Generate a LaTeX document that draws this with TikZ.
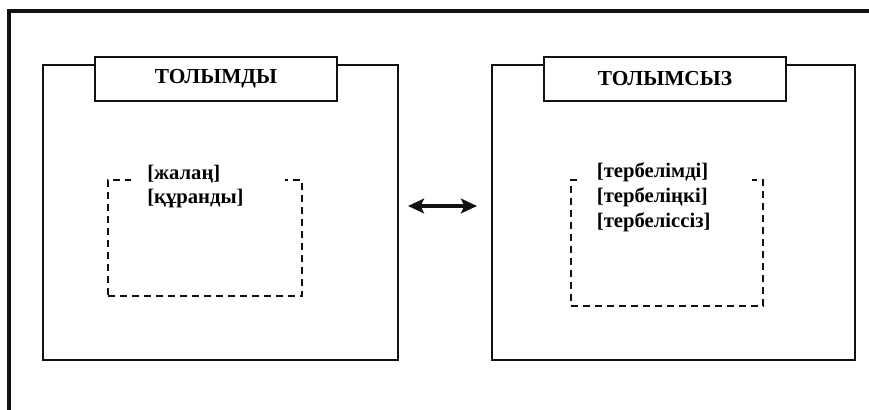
\documentclass[tikz,border=0pt]{standalone}
\usepackage{fontspec}
\setmainfont{Liberation Serif}
\usepackage{tikz}
\usetikzlibrary{arrows.meta,positioning}
\definecolor{ink}{HTML}{111111}

\begin{document}
\begin{tikzpicture}[x=0.75pt,y=-0.75pt,
  panel/.style={draw=ink,line width=1.5pt,minimum height=221.25pt,anchor=north west,inner sep=0pt},
  titlebox/.style={draw=ink,fill=white,line width=1.5pt,minimum width=181.5pt,minimum height=33pt,inner sep=0pt,font=\bfseries\fontsize{16pt}{18pt}\selectfont},
  dashbox/.style={draw=ink,line width=1.5pt,dash pattern=on 5.5pt off 3.5pt,anchor=north west,inner sep=0pt},
  entries/.style={fill=white,anchor=north west,align=left,inner ysep=2pt,font=\bfseries\fontsize{15.5pt}{18.5pt}\selectfont}]
\useasboundingbox (0,0) rectangle (869,410);
\clip (0,0) rectangle (869,410);
\fill[white] (0,0) rectangle (869,410);
% outer frame, cut at right and bottom
\draw[ink,line width=3.5pt] (9,11) rectangle (885,425);

% left panel
\node[panel,minimum width=266.25pt] (tolymdy) at (42,64) {};
\node[titlebox] (tolymdytitle) at (216,79) {ТОЛЫМДЫ};
\node[dashbox,minimum width=145.5pt,minimum height=87pt] (tolymdyset) at (107,179) {};
\node[entries,text width=91.5pt,inner xsep=12pt] (tolymdylist) at (131,162) {[жалаң]\\{}[құранды]};

% right panel
\node[panel,minimum width=272.25pt] (tolymsyz) at (491,64) {};
\node[titlebox] (tolymsyztitle) at (665,79) {ТОЛЫМСЫЗ};
\node[dashbox,minimum width=144pt,minimum height=94.5pt] (tolymsyzset) at (570,179) {};
\node[entries,text width=105.5pt,inner xsep=11pt] (tolymsyzlist) at (582,160) {[тербелімді]\\{}[тербеліңкі]\\{}[тербеліссіз]};

% link between panels
\coordinate (linkl) at (408,206);
\coordinate (linkr) at (477,206);
\draw[ink,line width=2.6pt,{Stealth[length=12pt,width=11pt,inset=2.5pt]}-{Stealth[length=12pt,width=11pt,inset=2.5pt]}] (linkl) -- (linkr);
\end{tikzpicture}
\end{document}
